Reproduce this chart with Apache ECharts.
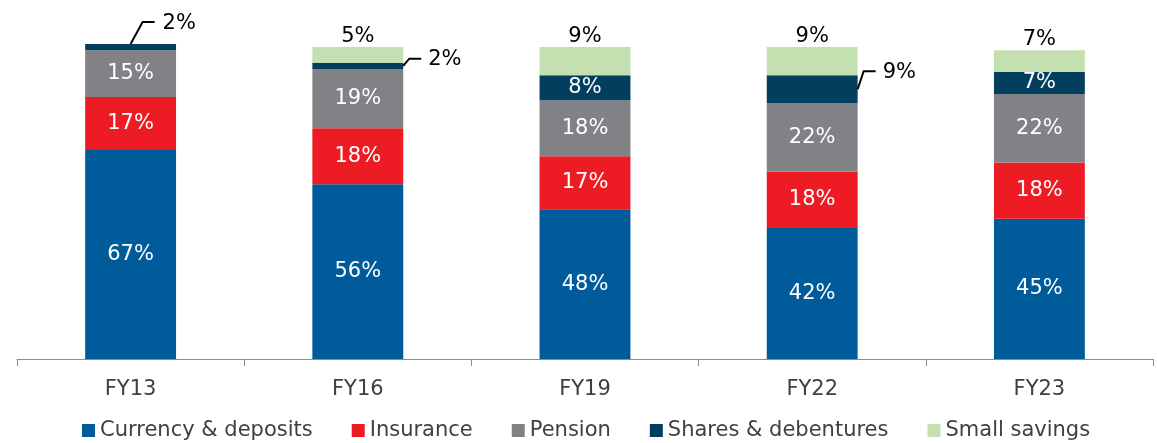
<!DOCTYPE html>
<html>
<head>
<meta charset="utf-8">
<title>Household financial savings mix</title>
<script src="https://cdn.jsdelivr.net/npm/echarts@6.0.0/dist/echarts.min.js"></script>
<style>
  html, body { margin: 0; padding: 0; background: #ffffff; }
  #chart { width: 1157px; height: 443px; }
</style>
</head>
<body>
<div id="chart"></div>
<script>
// Share of each instrument in household financial savings (%)
const categories = ['FY13', 'FY16', 'FY19', 'FY22', 'FY23'];
const currencyDeposits = [67, 56, 48, 42, 45];
const insurance = [17, 18, 17, 18, 18];
const pension = [15, 19, 18, 22, 22];
const sharesDebentures = [2, 2, 8, 9, 7];
const smallSavings = [null, 5, 9, 9, 7];

// How the shares & debentures value is labelled for each year:
// inside the segment, or on a leader line from the bar top / bar side
const sharesLabelPlacement = ['top', 'side', 'inside', 'side', 'inside'];

const FONT = '"DejaVu Sans", Verdana, sans-serif';
const FONT_SIZE = 21;
const BAR_WIDTH_RATIO = 0.4;
const COLORS = {
  currency: '#005B9B',
  insurance: '#ED1C24',
  pension: '#808285',
  shares: '#023F5F',
  small: '#C5E0B0'
};

const insideLabel = {
  show: true,
  position: 'inside',
  color: '#ffffff',
  fontFamily: FONT,
  fontSize: FONT_SIZE,
  formatter: p => p.value + '%'
};

function barSeries(name, values, color, label) {
  return {
    name: name,
    type: 'bar',
    stack: 'total',
    barWidth: (BAR_WIDTH_RATIO * 100) + '%',
    itemStyle: { color: color },
    label: label,
    emphasis: { disabled: true },
    data: values
  };
}

// Stack bases for the leader-line labels
const sharesBase = categories.map((_, i) => currencyDeposits[i] + insurance[i] + pension[i]);
const calloutData = [];
categories.forEach((_, i) => {
  if (sharesLabelPlacement[i] !== 'inside') {
    calloutData.push([i, sharesBase[i], sharesBase[i] + sharesDebentures[i], sharesDebentures[i]]);
  }
});

const sharesData = sharesDebentures.map((v, i) => ({
  value: v,
  label: { show: sharesLabelPlacement[i] === 'inside' }
}));

const option = {
  animation: false,
  textStyle: { fontFamily: FONT },
  grid: { left: 17, right: 4, top: 44, bottom: 84, containLabel: false },
  legend: {
    data: ['Currency & deposits', 'Insurance', 'Pension', 'Shares & debentures', 'Small savings'],
    left: 77,
    top: 415,
    icon: 'rect',
    itemWidth: 13,
    itemHeight: 13,
    itemGap: 39,
    selectedMode: false,
    textStyle: { color: '#404040', fontFamily: FONT, fontSize: FONT_SIZE }
  },
  xAxis: {
    type: 'category',
    data: categories,
    axisLine: { lineStyle: { color: '#8c8c8c', width: 1 } },
    axisTick: { show: true, length: 7, lineStyle: { color: '#8c8c8c' } },
    axisLabel: { color: '#404040', fontFamily: FONT, fontSize: FONT_SIZE, margin: 20 }
  },
  yAxis: {
    type: 'value',
    min: 0,
    max: 101,
    show: false,
    splitLine: { show: false }
  },
  series: [
    barSeries('Currency & deposits', currencyDeposits, COLORS.currency, insideLabel),
    barSeries('Insurance', insurance, COLORS.insurance, insideLabel),
    barSeries('Pension', pension, COLORS.pension, insideLabel),
    barSeries('Shares & debentures', sharesData, COLORS.shares, insideLabel),
    barSeries('Small savings', smallSavings, COLORS.small, {
      show: true,
      position: 'top',
      distance: 0,
      color: '#000000',
      fontFamily: FONT,
      fontSize: FONT_SIZE,
      formatter: p => p.value + '%'
    }),
    {
      // leader-line labels for thin shares & debentures segments
      name: 'shares-callout',
      type: 'custom',
      silent: true,
      z: 5,
      data: calloutData,
      renderItem: function (params, api) {
        const idx = api.value(0);
        const base = api.value(1);
        const top = api.value(2);
        const val = api.value(3);
        const topPt = api.coord([idx, top]);
        const midPt = api.coord([idx, (base + top) / 2]);
        const halfW = api.size([1, 0])[0] * BAR_WIDTH_RATIO / 2;
        let pts, tx, ty;
        if (sharesLabelPlacement[idx] === 'top') {
          const x = topPt[0], y = topPt[1];
          pts = [[x, y], [x + 12, y - 22], [x + 24, y - 22]];
          tx = x + 32; ty = y - 20;
        } else {
          const x = topPt[0] + halfW;
          const yEnd = topPt[1] - 4;
          pts = [[x, midPt[1]], [x + 6, yEnd], [x + 18, yEnd]];
          tx = x + 25; ty = yEnd + 1;
        }
        return {
          type: 'group',
          children: [
            { type: 'polyline', shape: { points: pts }, style: { stroke: '#000000', lineWidth: 2, fill: null } },
            {
              type: 'text',
              style: {
                x: tx, y: ty, text: val + '%',
                fill: '#000000', font: FONT_SIZE + 'px ' + FONT,
                align: 'left', verticalAlign: 'middle'
              }
            }
          ]
        };
      }
    }
  ]
};

const chart = echarts.init(document.getElementById('chart'), null, { renderer: 'canvas' });
chart.setOption(option);
</script>
</body>
</html>
